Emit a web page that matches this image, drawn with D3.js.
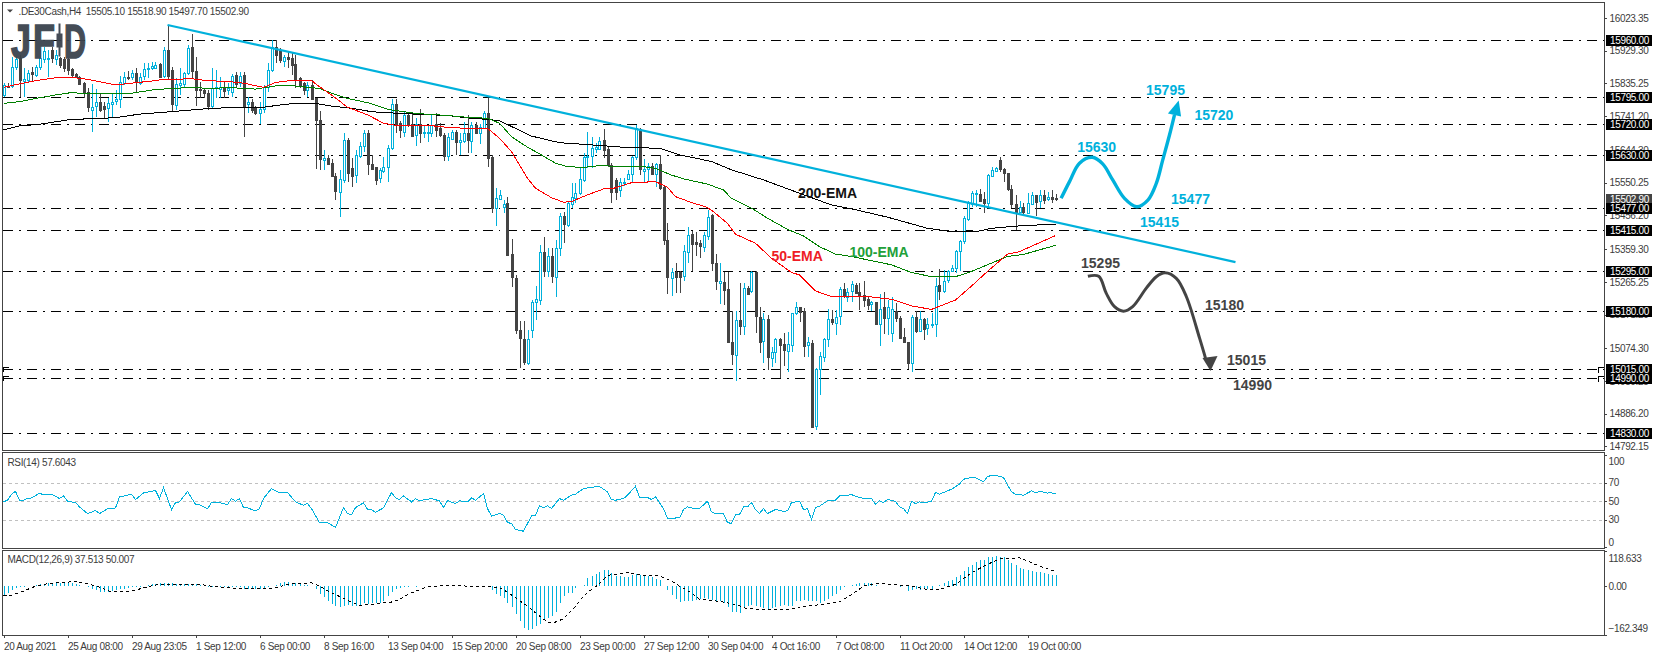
<!DOCTYPE html>
<html>
<head>
<meta charset="utf-8">
<script src="https://cdn.jsdelivr.net/npm/d3@7"></script>
<style>
  body { margin: 0; background: #fff; overflow: hidden; }
  text { font-family: "Liberation Sans", Arial, sans-serif; }
  .small { font-size: 10px; letter-spacing: -0.35px; fill: #3c3c3c; }
  .note { font-size: 14px; font-weight: bold; text-anchor: middle; dominant-baseline: central; }
</style>
</head>
<body>
<script>
// candles, one entry per 4H bar
var opens = [
  15802,15828,15828,15881,15907,15842,15845,15869,15860,15881,
  15905,15903,15931,15905,15907,15905,15905,15876,15861,15853,
  15836,15810,15759,15769,15781,15769,15764,15778,15783,15790,
  15838,15853,15855,15864,15838,15855,15876,15879,15879,15891,
  15855,15931,15874,15773,15831,15831,15864,15939,15872,15818,
  15816,15807,15769,15820,15821,15824,15816,15812,15860,15836,
  15860,15776,15783,15764,15749,15761,15824,15874,15941,15931,
  15901,15912,15907,15891,15850,15836,15816,15831,15792,15730,
  15613,15620,15606,15569,15524,15558,15673,15591,15572,15627,
  15654,15694,15604,15594,15563,15585,15593,15651,15776,15721,
  15697,15745,15719,15687,15719,15694,15694,15694,15719,15706,
  15687,15627,15678,15696,15668,15668,15692,15671,15716,15694,
  15709,15751,15623,15477,15503,15479,15491,15345,15276,15127,
  15101,15031,15125,15205,15213,15350,15295,15338,15280,15362,
  15454,15429,15489,15508,15520,15558,15623,15625,15647,15649,
  15673,15646,15601,15558,15527,15548,15562,15575,15622,15703,
  15585,15589,15598,15575,15604,15537,15386,15277,15293,15293,
  15282,15352,15402,15381,15376,15366,15397,15457,15319,15263,
  15266,15244,15093,15055,15156,15138,15247,15237,15292,15165,
  15096,15158,15048,15065,15101,15086,15065,15084,15175,15192,
  15180,15081,15089,14849,15014,15050,15101,15158,15148,15165,
  15244,15223,15237,15256,15237,15228,15216,15199,15208,15144,
  15192,15159,15117,15180,15160,15106,15092,15034,15163,15125,
  15159,15132,15142,15144,15256,15240,15268,15295,15304,15352,
  15381,15446,15489,15518,15518,15503,15491,15571,15585,15615,
  15589,15577,15531,15489,15464,15479,15462,15489,15515,15499,
  15515,15503,15509,15505.1];
var highs = [
  15836,15836,15912,15912,15917,15879,15874,15883,15888,15931,
  15941,15931,15941,15931,15912,15912,15907,15879,15864,15857,
  15838,15821,15834,15818,15807,15783,15793,15807,15816,15857,
  15869,15872,15874,15879,15864,15893,15893,15898,15898,15893,
  15941,16003,15883,15850,15879,15869,15946,15977,15912,15840,
  15821,15816,15879,15874,15855,15840,15836,15862,15869,15869,
  15869,15795,15790,15769,15783,15831,15893,15960,15960,15936,
  15917,15927,15924,15917,15855,15840,15840,15845,15792,15756,
  15644,15630,15617,15577,15587,15692,15678,15620,15644,15668,
  15700,15700,15630,15596,15591,15625,15658,15790,15790,15728,
  15754,15754,15749,15735,15761,15716,15716,15747,15749,15721,
  15692,15694,15700,15700,15692,15723,15745,15723,15723,15719,
  15757,15792,15630,15534,15529,15500,15510,15388,15285,15153,
  15154,15127,15213,15253,15371,15395,15362,15362,15386,15464,
  15467,15496,15548,15548,15591,15634,15695,15682,15663,15680,
  15703,15654,15606,15563,15563,15563,15587,15627,15716,15706,
  15617,15608,15606,15606,15630,15544,15435,15304,15319,15295,
  15371,15424,15412,15409,15386,15409,15472,15460,15345,15319,
  15292,15292,15180,15180,15261,15261,15253,15295,15295,15194,
  15175,15170,15079,15103,15103,15117,15120,15175,15208,15194,
  15189,15108,15098,15017,15065,15103,15186,15184,15184,15250,
  15263,15247,15269,15263,15261,15269,15223,15210,15208,15230,
  15237,15213,15221,15205,15167,15132,15093,15170,15180,15180,
  15160,15160,15175,15275,15301,15299,15299,15314,15357,15386,
  15453,15496,15527,15529,15531,15524,15575,15596,15596,15623,
  15591,15579,15544,15515,15496,15491,15520,15524,15515,15529,
  15529,15524,15529,15518.9];
var lows = [
  15797,15821,15821,15874,15797,15797,15840,15840,15855,15874,
  15893,15853,15893,15888,15879,15869,15860,15853,15850,15831,
  15792,15754,15697,15740,15754,15735,15723,15740,15773,15764,
  15831,15845,15845,15812,15831,15845,15850,15874,15877,15853,
  15850,15845,15756,15759,15802,15821,15860,15850,15769,15792,
  15792,15759,15764,15792,15792,15792,15802,15797,15826,15826,
  15682,15749,15749,15745,15719,15749,15812,15869,15893,15893,
  15883,15879,15860,15821,15821,15802,15797,15788,15589,15587,
  15587,15601,15567,15500,15451,15548,15553,15539,15550,15620,
  15639,15572,15587,15544,15550,15577,15553,15644,15694,15678,
  15682,15711,15680,15656,15665,15678,15668,15682,15680,15680,
  15611,15611,15673,15630,15630,15665,15634,15634,15690,15661,
  15703,15596,15464,15426,15500,15462,15340,15251,15115,15017,
  15026,15026,15103,15156,15199,15280,15280,15263,15221,15338,
  15376,15424,15477,15491,15515,15553,15591,15591,15634,15644,
  15620,15596,15491,15500,15510,15541,15558,15550,15615,15572,
  15548,15553,15575,15539,15529,15371,15230,15225,15232,15234,
  15269,15319,15295,15338,15333,15352,15386,15295,15242,15202,
  15199,15089,15026,14979,15113,15113,15228,15232,15117,15060,
  15031,15012,15020,15031,14988,15022,15007,15065,15170,15151,
  15050,15050,14844,14840,14940,15036,15079,15141,15113,15141,
  15218,15208,15208,15232,15183,15194,15183,15180,15141,15081,
  15115,15113,15093,15151,15100,15089,15014,15007,15117,15122,
  15098,15113,15132,15108,15213,15234,15261,15292,15290,15295,
  15374,15441,15481,15481,15496,15462,15481,15567,15582,15582,
  15553,15527,15477,15414,15462,15460,15460,15486,15453,15477,
  15489,15496,15493,15497.7];
var closes = [
  15831,15824,15883,15905,15845,15847,15866,15862,15882,15907,
  15927,15907,15907,15917,15886,15879,15872,15860,15853,15834,
  15809,15767,15767,15781,15759,15759,15778,15783,15790,15840,
  15855,15850,15866,15838,15855,15876,15879,15885,15888,15855,
  15931,15857,15776,15834,15836,15864,15936,15869,15816,15816,
  15807,15769,15821,15824,15826,15812,15821,15857,15834,15857,
  15769,15783,15759,15749,15761,15824,15874,15941,15917,15903,
  15912,15907,15888,15847,15828,15816,15831,15790,15728,15617,
  15620,15604,15569,15527,15560,15673,15577,15567,15630,15656,
  15692,15604,15591,15556,15587,15596,15649,15776,15719,15700,
  15745,15716,15684,15719,15692,15697,15697,15716,15703,15687,
  15627,15682,15697,15668,15673,15692,15671,15716,15694,15711,
  15751,15623,15477,15505,15515,15489,15342,15280,15127,15103,
  15036,15100,15206,15215,15350,15295,15338,15280,15362,15454,
  15431,15491,15508,15521,15560,15625,15627,15649,15652,15671,
  15644,15601,15524,15524,15551,15551,15575,15623,15706,15587,
  15590,15598,15575,15604,15534,15384,15280,15293,15280,15280,
  15354,15400,15374,15374,15366,15400,15451,15319,15266,15268,
  15242,15091,15058,15156,15138,15247,15230,15292,15165,15093,
  15158,15048,15065,15101,15084,15068,15086,15175,15192,15177,
  15079,15091,14849,15014,15052,15101,15158,15148,15165,15244,
  15223,15237,15258,15234,15228,15213,15199,15206,15144,15186,
  15160,15192,15186,15160,15103,15091,15033,15165,15122,15159,
  15129,15144,15144,15254,15240,15268,15295,15304,15354,15382,
  15448,15491,15520,15521,15499,15491,15571,15587,15593,15589,
  15577,15531,15489,15467,15479,15464,15491,15515,15496,15515,
  15500,15510,15503,15502.9];

// moving averages, read at the bars where they bend
var ema50Bars = [1,5,10,15,18,22,25,29,33,38,41,44,48,52,57,61,66,69,73,78,79,83,87,92,96,100,107,112,117,122,125,128,132,134,138,141,143,147,151,153,158,164,167,169,173,177,179,182,184,189,193,198,200,204,208,217,223,228,233,239,243,247,252,255,264];
var ema50 = [15824,15834,15845,15853,15853,15847,15840,15831,15836,15842,15847,15847,15849,15843,15841,15836,15824,15838,15844,15844,15834,15802,15767,15745,15721,15713,15715,15709,15706,15706,15678,15639,15563,15534,15507,15494,15496,15515,15532,15532,15550,15553,15537,15510,15493,15479,15462,15433,15402,15376,15333,15292,15285,15239,15223,15223,15215,15196,15186,15213,15253,15295,15345,15352,15398];
var ema100Bars = [1,5,10,14,18,22,27,33,39,44,48,52,58,64,69,73,77,80,83,87,92,97,104,112,117,122,125,128,132,135,139,142,146,150,157,161,164,168,171,177,181,183,188,192,197,201,205,209,213,223,228,233,239,243,248,252,256,264];
var ema100 = [15778,15783,15794,15802,15809,15805,15805,15807,15818,15821,15824,15821,15823,15819,15828,15829,15824,15821,15807,15792,15780,15761,15749,15743,15738,15735,15721,15682,15652,15633,15606,15596,15594,15599,15596,15596,15591,15572,15561,15546,15529,15505,15477,15448,15416,15397,15366,15345,15338,15314,15292,15280,15280,15295,15319,15338,15344,15370];
var ema200Bars = [1,5,10,14,18,24,29,35,43,50,54,61,66,70,74,79,83,88,93,97,104,112,118,122,125,129,133,140,145,150,157,165,170,178,183,191,199,208,213,222,232,237,244,248,255,264];
var ema200 = [15702,15713,15718,15725,15732,15734,15737,15747,15754,15761,15764,15767,15767,15773,15778,15778,15770,15764,15754,15751,15747,15743,15735,15732,15728,15706,15684,15665,15661,15657,15651,15649,15630,15611,15587,15558,15524,15486,15475,15451,15419,15411,15409,15419,15426,15431];

// RSI(14)
var rsiBars = [1,2,3,4,5,6,7,8,10,11,13,15,16,17,19,20,22,24,25,27,29,30,32,33,34,36,39,40,41,43,44,45,47,49,50,52,53,55,57,58,59,60,61,62,64,65,66,68,70,72,74,76,77,78,80,82,84,86,87,88,89,91,92,93,94,96,98,99,100,101,103,104,105,108,110,111,112,114,115,117,118,119,121,122,123,125,126,127,128,129,131,133,134,135,136,137,138,140,141,143,144,146,148,150,152,153,154,156,157,159,160,162,163,164,166,167,170,171,172,174,175,177,178,179,181,182,183,184,185,186,187,188,189,190,191,192,194,196,197,198,200,201,202,203,204,205,207,209,210,211,213,214,216,218,219,220,221,222,224,225,226,227,228,229,230,231,233,234,235,237,238,240,241,243,244,246,247,249,251,253,254,256,258,259,260,262,263,264];
var rsi = [49.1,50.9,57.4,60.6,50.9,50.9,52.7,53.4,58.5,56.7,57.4,52.7,55.6,49.8,48.4,43.7,36.5,39.7,36.5,41.5,42.6,54.5,56.3,57.4,51.6,58.8,61.4,52.7,64.6,40.8,48.4,49.1,60.3,46.6,46.2,41.5,48.4,48.4,46.2,52.7,49.8,52.7,43,42.6,39.4,41.9,52.7,63.5,58.8,59.2,49.1,45.5,47.3,41.9,26.8,26.8,21.4,43,36.5,35.4,43,48,41.2,40.8,37.9,42.6,59.2,53.4,51.6,55.6,49.1,52.7,50.5,52.7,50.2,43,50.5,47.3,50.2,49.1,53.4,50.9,58.1,41.9,33.6,36.5,34.7,26.8,25.7,19.2,17.4,34,34.7,44.8,43,44.8,41.9,52.7,50.9,56.3,57.4,63.5,65,65.7,59.9,51.6,50.9,52.7,56.3,66,53.8,53.8,51.6,54.5,41.9,31.4,31.8,40.8,43.7,41.5,41.9,49.8,38.3,36.5,36.5,26.8,25.7,35.4,35.4,43.7,43.7,48.4,40.8,36.5,41.9,36.5,40.8,39,39.4,48.4,49.8,40.8,41.9,30,43,44.4,50.2,50.9,55.6,55.6,57,55.2,52.7,52.7,46.6,50.2,48.4,51.6,49.8,43.7,41.9,36.5,49.8,47.3,49.1,48,49.8,59.2,57.4,61,62.8,68.2,73.6,75.4,75.4,70.7,76.8,77.9,75.4,59.9,57.4,56.3,61,58.8,60.6,58.6,59,57.6];
var rsiLevels = [70, 50, 30];
var rsiTicks = [100, 70, 50, 30, 0];

// MACD(12,26,9): histogram per bar, signal line at its bends
var macdHist = [
  -28,-22,-13,-4,-2,-1,0,2,4,7,
  9,11,13,13,13,13,13,11,9,6,
  2,-2,-9,-13,-17,-18,-18,-16,-13,-9,
  -7,-4,-2,-1,-1,2,4,7,9,10,
  12,13,10,7,7,7,7,7,7,4,
  1,-1,-2,-1,-1,-2,-1,-2,-3,-2,
  -7,-9,-10,-9,-7,-4,-2,2,6,10,
  14,16,13,10,9,6,4,0,-9,-25,
  -36,-47,-58,-67,-69,-65,-61,-67,-65,-61,
  -56,-58,-56,-56,-56,-50,-33,-17,-9,-4,
  -2,-1,0,-1,1,2,1,2,1,1,
  0,0,0,1,1,0,0,-1,0,2,
  1,0,-13,-25,-31,-39,-56,-69,-91,-117,
  -139,-144,-143,-132,-126,-113,-104,-98,-84,-56,
  -33,-22,-22,-6,1,6,28,36,42,50,
  54,54,45,36,36,31,30,39,42,39,
  37,36,30,25,20,2,-11,-28,-42,-52,
  -50,-50,-47,-45,-42,-40,-42,-45,-48,-50,
  -56,-69,-84,-87,-89,-72,-67,-61,-67,-69,
  -72,-76,-72,-69,-67,-61,-67,-67,-50,-47,
  -45,-47,-48,-47,-56,-50,-42,-33,-25,-13,
  -3,0,6,9,11,11,13,11,6,3,
  2,3,1,1,-2,0,-16,-13,-9,-11,
  -6,-9,-11,0,6,11,19,22,33,39,
  52,64,72,81,87,89,98,100,103,100,
  98,89,80,72,61,58,56,52,50,47,
  45,42,40,37.5];
var signalBars = [1,3,5,7,9,12,16,19,22,25,28,33,37,40,45,50,54,60,67,70,73,78,80,83,87,90,93,98,100,103,107,112,118,123,125,127,129,132,135,137,139,141,144,146,148,150,152,155,157,161,165,168,170,173,175,180,184,187,193,199,201,206,210,213,216,220,227,232,235,239,243,247,250,255,260,264];
var signal = [-30,-29,-21,-10,1,9,14,16,9,-2,-18,-16,-1,7,7,7,-1,-8,-8,-1,10,12,1,-21,-46,-64,-60,-52,-43,-21,-1,3,1,-1,-4,-19,-38,-66,-99,-119,-119,-108,-66,-32,-10,9,37,43,46,38,35,18,1,-21,-43,-50,-60,-75,-77,-75,-66,-60,-51,-27,1,10,3,-10,-10,7,46,74,92,96,68,50];
var macdTicks = [118.633, 0, -162.349];

// price axis and drawn levels
var priceTicks = [16023.35,15929.30,15835.25,15741.20,15644.30,15550.25,15456.20,15359.30,15265.25,15171.20,15074.30,14980.25,14886.20,14792.15];
var levels = [15960,15795,15720,15630,15477,15415,15295,15180,15015,14990,14830];
var lastPrice = 15502.9;
var flaggedLevels = [15015, 14990];

// time axis
var dateBars = [1,17,33,49,65,81,97,113,129,145,161,177,193,209,225,241,257];
var dateLabels = ["20 Aug 2021","25 Aug 08:00","29 Aug 23:05","1 Sep 12:00","6 Sep 00:00","8 Sep 16:00","13 Sep 04:00","15 Sep 20:00","20 Sep 08:00","23 Sep 00:00","27 Sep 12:00","30 Sep 04:00","4 Oct 16:00","7 Oct 08:00","11 Oct 20:00","14 Oct 12:00","19 Oct 00:00"];

// drawn objects, in bars and price
var trendBars = [42, 309];
var trendPrices = [16003, 15322];
var upPathBars = [265.4,267.5,270,273.2,275.8,278.3,281.25,284.3,287.1,289.2,290.8,292.5,293.75];
var upPathPrices = [15505,15553,15606,15623,15604,15558,15505,15481,15500,15548,15615,15687,15745];
var upHeadBars = [294.8,292.1,295.4];
var upHeadPrices = [15786,15749,15740];
var downPathBars = [272.1,274.8,276.7,278.75,281,283.3,286.7,289.2,291.4,294.2,296.7,300,301.5];
var downPathPrices = [15281,15281,15232,15194,15181,15194,15247,15280,15291,15275,15223,15104,15046];
var downHeadBars = [302.75,300.75,304.5];
var downHeadPrices = [15009,15046,15052];

var cyanNotes = ["15795","15720","15630","15477","15415"];
var cyanNoteBars = [291.5,303.6,274.3,297.75,290];
var cyanNotePrices = [15816,15745,15652,15502,15437];
var darkNotes = ["15295","15180","15015","14990"];
var darkNoteBars = [275.25,306.25,311.75,313.25];
var darkNotePrices = [15318,15200,15040,14970];
var emaNotes = ["200-EMA","50-EMA","100-EMA"];
var emaNoteBars = [207,199.4,219.9];
var emaNotePrices = [15520,15339,15350];

var CYAN = "#00b1dc", DARK = "#444444";
var red = "#ff0000", green = "#008000";

var width = 1655, height = 656;
var left = 2.5, right = 1604.5;

var svg = d3.select("body").append("svg")
  .attr("width", width)
  .attr("height", height)
  .style("display", "block");

var x = d3.scaleLinear().domain([1, 264]).range([3.5, 1055.5]);
var y = d3.scaleLinear().domain([14830, 15960]).range([433.3, 40]);
var yRsi = d3.scaleLinear().domain([0, 100]).range([547.3, 454.8]);
var yMacd = d3.scaleLinear().domain([-162.349, 118.633]).range([635, 551]);

var px = function(v) { return Math.round(v) + 0.5; };

// level lines sit under the candles
svg.append("g").selectAll("line").data(levels).enter().append("line")
  .attr("x1", left).attr("x2", right)
  .attr("y1", function(d) { return px(y(d)); })
  .attr("y2", function(d) { return px(y(d)); })
  .attr("stroke", "#000")
  .attr("stroke-dasharray", "10,6,2,6")
  .attr("shape-rendering", "crispEdges");

// little price flags on both ends of two of the levels
svg.append("g").selectAll("path").data(flaggedLevels).enter().append("path")
  .attr("d", function(d) {
    var v = px(y(d));
    return "M" + (left + 1) + "," + (v + 2) + "V" + (v - 2) + "H" + (left + 6) +
      "M" + (right - 6) + "," + (v + 3) + "V" + (v - 2) + "H" + (right - 1);
  })
  .attr("fill", "none").attr("stroke", "#000").attr("shape-rendering", "crispEdges");

var bars = d3.range(opens.length);

var candles = svg.append("g").attr("shape-rendering", "crispEdges");
candles.selectAll("line").data(bars).enter().append("line")
  .attr("x1", function(i) { return px(x(i + 1)); })
  .attr("x2", function(i) { return px(x(i + 1)); })
  .attr("y1", function(i) { return y(highs[i]); })
  .attr("y2", function(i) { return y(lows[i]); })
  .attr("stroke", function(i) { return closes[i] >= opens[i] ? CYAN : DARK; });
candles.selectAll("rect").data(bars).enter().append("rect")
  .attr("x", function(i) { return px(x(i + 1)) - 1; })
  .attr("width", 2)
  .attr("y", function(i) { return px(y(Math.max(opens[i], closes[i]))); })
  .attr("height", function(i) { return Math.max(1, Math.round(Math.abs(y(opens[i]) - y(closes[i])))); })
  .attr("fill", function(i) { return closes[i] >= opens[i] ? "#fff" : DARK; })
  .attr("stroke", function(i) { return closes[i] >= opens[i] ? CYAN : DARK; });

var lineOf = function(xs, scale, curve) {
  var l = d3.line()
    .x(function(d, i) { return x(xs[i]); })
    .y(function(d) { return scale(d); });
  if (curve) l.curve(curve);
  return l;
};

[[ema200Bars, ema200, "#000"], [ema100Bars, ema100, green], [ema50Bars, ema50, red]].forEach(function(s) {
  svg.append("path")
    .attr("d", lineOf(s[0], y)(s[1]))
    .attr("fill", "none")
    .attr("stroke", s[2])
    .attr("stroke-width", 1)
    .attr("shape-rendering", "crispEdges");
});

// trend line
svg.append("path")
  .attr("d", lineOf(trendBars, y)(trendPrices))
  .attr("fill", "none").attr("stroke", CYAN).attr("stroke-width", 2.2);

// scenario paths
[[upPathBars, upPathPrices, upHeadBars, upHeadPrices, CYAN, 3.4],
 [downPathBars, downPathPrices, downHeadBars, downHeadPrices, DARK, 3]].forEach(function(s) {
  svg.append("path")
    .attr("d", lineOf(s[0], y, d3.curveCatmullRom)(s[1]))
    .attr("fill", "none").attr("stroke", s[4]).attr("stroke-width", s[5]);
  svg.append("path")
    .attr("d", lineOf(s[2], y)(s[3]) + "Z")
    .attr("fill", s[4]);
});

// labels on the chart
var notes = function(labels, barsAt, prices, colors) {
  svg.append("g").selectAll("text").data(labels).enter().append("text")
    .attr("class", "note")
    .attr("x", function(d, i) { return x(barsAt[i]); })
    .attr("y", function(d, i) { return y(prices[i]); })
    .attr("fill", function(d, i) { return colors[i % colors.length]; })
    .text(function(d) { return d; });
};
notes(cyanNotes, cyanNoteBars, cyanNotePrices, [CYAN]);
notes(darkNotes, darkNoteBars, darkNotePrices, [DARK]);
notes(emaNotes, emaNoteBars, emaNotePrices, ["#111", "#ee1c25", "#22a03a"]);

// logo over the first candles
var logo = svg.append("g").attr("fill", "#3b434e").attr("stroke", "#3b434e").attr("opacity", 0.95);
[["J", 11, 20], ["F", 33, 22], ["D", 64, 22]].forEach(function(l) {
  logo.append("text")
    .attr("x", l[1]).attr("y", 58)
    .attr("font-size", 49).attr("font-weight", "bold")
    .attr("stroke-width", 1.6)
    .attr("textLength", l[2]).attr("lengthAdjust", "spacingAndGlyphs")
    .text(l[0]);
});
logo.append("rect").attr("x", 57).attr("y", 34).attr("width", 5).attr("height", 13);
logo.append("rect").attr("x", 59).attr("y", 24).attr("width", 1).attr("height", 32);

// RSI pane
svg.append("g").selectAll("line").data(rsiLevels).enter().append("line")
  .attr("x1", left).attr("x2", right)
  .attr("y1", function(d) { return px(yRsi(d)); })
  .attr("y2", function(d) { return px(yRsi(d)); })
  .attr("stroke", "#c0c0c0")
  .attr("stroke-dasharray", "3,3")
  .attr("shape-rendering", "crispEdges");
svg.append("path")
  .attr("d", lineOf(rsiBars, yRsi)(rsi))
  .attr("fill", "none").attr("stroke", CYAN).attr("stroke-width", 1)
  .attr("shape-rendering", "crispEdges");

// MACD pane
svg.append("g").attr("shape-rendering", "crispEdges")
  .selectAll("line").data(bars).enter().append("line")
  .attr("x1", function(i) { return px(x(i + 1)); })
  .attr("x2", function(i) { return px(x(i + 1)); })
  .attr("y1", yMacd(0))
  .attr("y2", function(i) { return yMacd(macdHist[i]); })
  .attr("stroke", CYAN);
svg.append("path")
  .attr("d", lineOf(signalBars, yMacd)(signal))
  .attr("fill", "none").attr("stroke", "#000")
  .attr("stroke-width", 1).attr("stroke-dasharray", "3,3")
  .attr("shape-rendering", "crispEdges");

// pane frames
[[2.5, 450.5], [452.5, 548.5], [550.5, 635.5]].forEach(function(p) {
  svg.append("rect")
    .attr("x", left).attr("y", p[0])
    .attr("width", right - left).attr("height", p[1] - p[0])
    .attr("fill", "none").attr("stroke", DARK)
    .attr("stroke-width", 1)
    .attr("shape-rendering", "crispEdges");
});

// axes
var styleAxis = function(g) {
  g.select(".domain").remove();
  g.selectAll("line").attr("stroke", DARK).attr("shape-rendering", "crispEdges");
  g.selectAll("text").attr("class", "small").attr("font-family", null).attr("font-size", null);
};

svg.append("g")
  .attr("transform", "translate(" + right + ",0)")
  .call(d3.axisRight(y).tickValues(priceTicks).tickSize(2).tickPadding(3).tickFormat(d3.format(".2f")))
  .call(styleAxis);

svg.append("g")
  .attr("transform", "translate(" + right + ",0)")
  .call(d3.axisRight(yRsi).tickValues(rsiTicks).tickSize(2).tickPadding(2))
  .call(styleAxis)
  .call(function(g) {
    g.selectAll("text").attr("dy", function(d) { return d === 100 ? "1.0em" : d === 0 ? "-0.2em" : "0.32em"; });
  });

svg.append("g")
  .attr("transform", "translate(" + right + ",0)")
  .call(d3.axisRight(yMacd).tickValues(macdTicks).tickSize(2).tickPadding(2)
    .tickFormat(function(d) { return d === 0 ? "0.00" : d3.format(".3f")(d); }))
  .call(styleAxis)
  .call(function(g) {
    g.selectAll("text").attr("dy", function(d) { return d > 0 ? "1.0em" : d < 0 ? "-0.4em" : "0.32em"; });
  });

svg.append("g")
  .attr("transform", "translate(0,635.5)")
  .call(d3.axisBottom(x).tickValues(dateBars).tickSize(2).tickPadding(5)
    .tickFormat(function(d, i) { return dateLabels[i]; }))
  .call(styleAxis)
  .call(function(g) { g.selectAll("text").attr("text-anchor", "start"); });

// price boxes on the right axis
var priceBox = function(v, fill) {
  svg.append("rect")
    .attr("x", 1606).attr("y", Math.round(y(v)) - 5)
    .attr("width", 46).attr("height", 11)
    .attr("fill", fill);
  svg.append("text")
    .attr("class", "small")
    .attr("x", 1610).attr("y", y(v) + 4)
    .style("fill", "#fff")
    .text(d3.format(".2f")(v));
};
priceBox(lastPrice, DARK);
levels.forEach(function(v) { priceBox(v, "#000"); });

// header and pane titles
svg.append("path").attr("d", "M7,9.5H13L10,12.5Z").attr("fill", DARK);
var title = function(s, tx, ty) {
  svg.append("text").attr("class", "small")
    .attr("x", tx).attr("y", ty).attr("xml:space", "preserve")
    .style("white-space", "pre")
    .text(s);
};
title(".DE30Cash,H4  15505.10 15518.90 15497.70 15502.90", 18.5, 14.5);
title("RSI(14) 57.6043", 7.5, 465.5);
title("MACD(12,26,9) 37.513 50.007", 7.5, 563);
</script>
</body>
</html>
